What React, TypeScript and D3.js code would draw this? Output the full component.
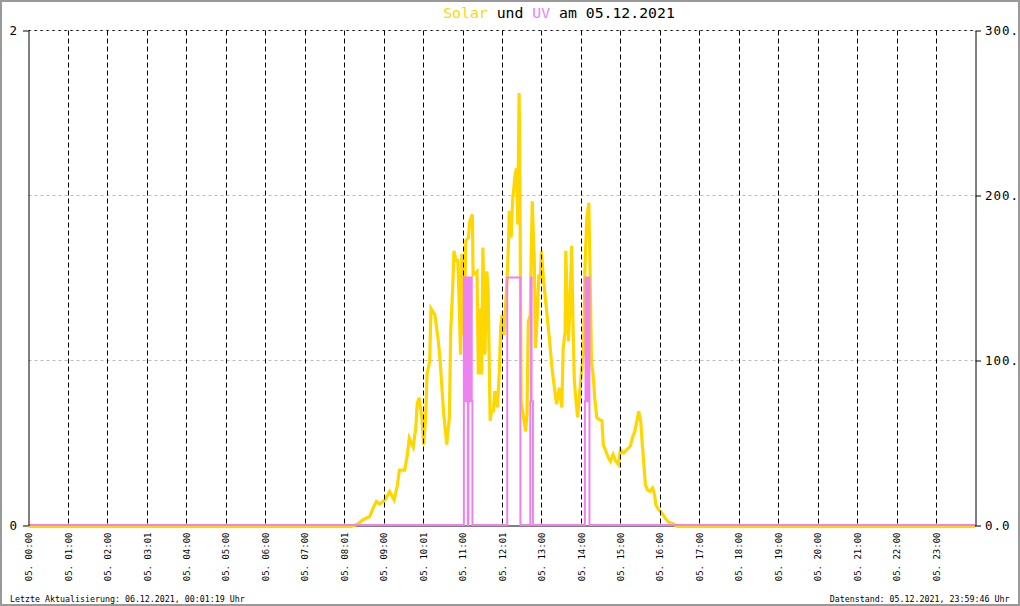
import React, { useEffect, useRef } from 'react';
import * as d3 from 'd3';

// Solar (W/m², right axis)
const solarTimes = [
  '00:00', '08:11', '08:19', '08:29', '08:39', '08:44', '08:49', '08:54', '09:02', '09:09',
  '09:16', '09:21', '09:24', '09:32', '09:36', '09:39', '09:45', '09:49', '09:51', '09:54',
  '09:58', '10:01', '10:04', '10:06', '10:10', '10:12', '10:18', '10:23', '10:26', '10:31',
  '10:36', '10:40', '10:42', '10:45', '10:47', '10:50', '10:53', '10:57', '10:59', '11:02',
  '11:05', '11:09', '11:11', '11:15', '11:16', '11:22', '11:24', '11:26', '11:29', '11:31',
  '11:34', '11:37', '11:39', '11:41', '11:42', '11:44', '11:47', '11:49', '11:53', '11:56',
  '11:58', '12:00', '12:03', '12:06', '12:08', '12:10', '12:11', '12:14', '12:16', '12:20',
  '12:22', '12:24', '12:26', '12:27', '12:29', '12:32', '12:36', '12:38', '12:40', '12:43',
  '12:44', '12:46', '12:49', '12:51', '12:54', '12:56', '12:58', '13:00', '13:03', '13:08',
  '13:12', '13:16', '13:19', '13:23', '13:27', '13:31', '13:33', '13:36', '13:37', '13:41',
  '13:43', '13:46', '13:48', '13:50', '13:53', '13:55', '13:58', '14:00', '14:04', '14:06',
  '14:09', '14:12', '14:14', '14:16', '14:19', '14:21', '14:24', '14:28', '14:32', '14:34',
  '14:38', '14:42', '14:45', '14:49', '14:53', '14:57', '15:00', '15:05', '15:10', '15:15',
  '15:19', '15:22', '15:25', '15:28', '15:31', '15:33', '15:35', '15:38', '15:41', '15:45',
  '15:49', '15:52', '15:54', '15:58', '16:03', '16:08', '16:13', '16:21', '16:26', '23:59',
];
const solarValues = [
  0, 0, 1, 4, 6, 11, 15, 13.5, 16, 21,
  16, 25, 34, 34, 43, 53.5, 48, 60, 74, 78,
  66, 49.5, 67, 92, 100, 132, 128, 113, 100, 70,
  49.5, 66, 118, 144, 167, 161, 161, 104, 165, 116,
  173, 175, 185, 189, 152.5, 154.5, 92, 132, 92, 169,
  104, 154.5, 142, 88, 64, 70, 70, 82, 72, 94,
  120, 128, 116, 138, 152.5, 173, 191, 175, 197, 213,
  217, 183, 262.6, 231, 76, 68, 57.5, 68, 124, 128,
  154.5, 197, 162.6, 108, 130, 152.5, 150, 167, 150, 130,
  114, 96, 86, 74, 84, 72, 108, 118, 167, 112,
  130, 170, 122, 88, 74, 66, 80, 90, 106, 154.5,
  187, 196, 152.5, 100, 90, 78, 66, 64.6, 64, 49.5,
  45.5, 41.4, 39.4, 43.4, 39.4, 37.4, 46.5, 44.4, 46.5, 48.5,
  54.5, 57.5, 63.6, 69.7, 63.6, 51.5, 41.4, 25.3, 22.2, 21.2,
  23.2, 19.2, 13.1, 10.1, 8.1, 5, 2.6, 1.4, 0, 0,
];

// UV index (left axis)
const uvTimes = [
  '00:00', '11:02', '11:03', '11:04', '11:05', '11:06', '11:07', '11:08', '11:09', '11:10',
  '11:11', '11:12', '11:13', '11:14', '11:15', '12:08', '12:28', '12:43', '12:44', '12:45',
  '12:47', '14:06', '14:07', '14:08', '14:09', '14:10', '14:11', '14:13', '23:59',
];
const uvValues = [
  0, 1, 0.5, 1, 0.5, 1, 0.5, 0, 1, 0.5,
  1, 0.5, 1, 0.5, 0, 1, 0, 0.5, 1, 0.5,
  0, 0.5, 1, 0.5, 1, 0.5, 1, 0, 0,
];

const hourLabels = [
  '05. 00:00', '05. 01:00', '05. 02:00', '05. 03:01', '05. 04:00', '05. 05:00',
  '05. 06:00', '05. 07:00', '05. 08:01', '05. 09:00', '05. 10:01', '05. 11:00',
  '05. 12:01', '05. 13:00', '05. 14:00', '05. 15:00', '05. 16:00', '05. 17:00',
  '05. 18:00', '05. 19:00', '05. 20:00', '05. 21:00', '05. 22:00', '05. 23:00',
];
const uvTicks = [0, 2];
const solarTicks = [0, 100, 200, 300];

const SOLAR = '#ffd700';
const UV = '#ee82ee';
const MONO = '"DejaVu Sans Mono", monospace';

const toMin = (s: string) => +s.slice(0, 2) * 60 + +s.slice(3, 5);

const App: React.FC = () => {
  const svgRef = useRef<SVGSVGElement>(null);

  useEffect(() => {
    const svg = d3.select(svgRef.current!);
    svg.selectAll('*').remove();

    const left = 28.5, right = 975.5, top = 30.5, bottom = 525.5;

    const x = d3.scaleLinear().domain([0, 1440]).range([left, right]);
    const yUv = d3.scaleLinear().domain([0, 2]).range([bottom, top]);
    const ySolar = d3.scaleLinear().domain([0, 300]).range([bottom, top]);

    svg.append('rect').attr('width', 1020).attr('height', 606).attr('fill', '#fff');

    // horizontal grid (right axis values)
    svg.append('g')
      .selectAll('line')
      .data(solarTicks.slice(1))
      .enter()
      .append('line')
      .attr('x1', left)
      .attr('x2', right)
      .attr('y1', (d) => ySolar(d))
      .attr('y2', (d) => ySolar(d))
      .attr('stroke', '#bdbdbd')
      .attr('stroke-dasharray', '3,3');
    svg.append('line')
      .attr('x1', left)
      .attr('x2', right)
      .attr('y1', ySolar(300))
      .attr('y2', ySolar(300))
      .attr('stroke', '#000')
      .attr('stroke-dasharray', '2,4');

    // x axis with rotated labels
    const xAxis = svg.append('g')
      .attr('transform', `translate(0, ${bottom})`)
      .call(
        d3.axisBottom(x)
          .tickValues(hourLabels.map((_, i) => i * 60))
          .tickSize(0)
          .tickSizeOuter(0)
          .tickFormat((_, i) => hourLabels[i])
      );
    xAxis.attr('color', '#000');
    xAxis.selectAll('text')
      .attr('transform', 'rotate(-90)')
      .attr('x', -7)
      .attr('y', 0)
      .attr('dy', '0.35em')
      .style('text-anchor', 'end')
      .style('font-family', MONO)
      .style('font-size', '9px');

    // solar line
    const solarData = solarTimes.map((t, i) => ({ m: toMin(t), v: solarValues[i] }));
    svg.append('path')
      .datum(solarData)
      .attr('fill', 'none')
      .attr('stroke', SOLAR)
      .attr('stroke-width', 3.2)
      .attr('stroke-linejoin', 'miter')
      .attr('d', d3.line<{ m: number; v: number }>()
        .x((d) => x(d.m))
        .y((d) => ySolar(d.v) + 0.8));

    // vertical hour grid
    svg.append('g')
      .selectAll('line')
      .data(hourLabels.slice(1).map((_, i) => (i + 1) * 60))
      .enter()
      .append('line')
      .attr('x1', (d) => Math.round(x(d)) + 0.5)
      .attr('x2', (d) => Math.round(x(d)) + 0.5)
      .attr('y1', top)
      .attr('y2', bottom)
      .attr('stroke', '#000')
      .attr('stroke-dasharray', '5,3');

    // UV line
    const uvData = uvTimes.map((t, i) => ({ m: toMin(t), v: uvValues[i] }));
    svg.append('path')
      .datum(uvData)
      .attr('fill', 'none')
      .attr('stroke', UV)
      .attr('stroke-width', 2)
      .attr('d', d3.line<{ m: number; v: number }>()
        .curve(d3.curveStepAfter)
        .x((d) => x(d.m))
        .y((d) => yUv(d.v) - 0.5));

    // left axis (UV)
    const yl = svg.append('g')
      .attr('transform', `translate(${left}, 0)`)
      .call(
        d3.axisLeft(yUv)
          .tickValues(uvTicks)
          .tickSize(5.5)
          .tickSizeOuter(0)
          .tickPadding(6)
          .tickFormat(d3.format('d'))
      );
    yl.attr('color', '#000');
    yl.selectAll('text').style('font-family', MONO).style('font-size', '12.5px');

    // right axis (Solar)
    const yr = svg.append('g')
      .attr('transform', `translate(${right}, 0)`)
      .call(
        d3.axisRight(ySolar)
          .tickValues(solarTicks)
          .tickSize(5.5)
          .tickSizeOuter(0)
          .tickPadding(4)
          .tickFormat(d3.format('.1f'))
      );
    yr.attr('color', '#000');
    yr.selectAll('text')
      .style('font-family', MONO)
      .style('font-size', '12.5px')
      .style('letter-spacing', '1px');

    // title
    const title = svg.append('text')
      .attr('x', 559)
      .attr('y', 18.3)
      .attr('text-anchor', 'middle')
      .style('font-family', MONO)
      .style('font-size', '14.8px')
      .style('white-space', 'pre');
    title.append('tspan').attr('fill', SOLAR).text('Solar');
    title.append('tspan').attr('fill', '#000').text(' und ');
    title.append('tspan').attr('fill', UV).text('UV');
    title.append('tspan').attr('fill', '#000').text(' am 05.12.2021');

    // footer
    svg.append('text')
      .attr('x', 10)
      .attr('y', 602)
      .style('font-family', MONO)
      .style('font-size', '8.3px')
      .text('Letzte Aktualisierung: 06.12.2021, 00:01:19 Uhr');
    svg.append('text')
      .attr('x', 1009.5)
      .attr('y', 602)
      .attr('text-anchor', 'end')
      .style('font-family', MONO)
      .style('font-size', '8.3px')
      .text('Datenstand: 05.12.2021, 23:59:46 Uhr');

    // frame
    svg.append('rect')
      .attr('x', 1)
      .attr('y', 1)
      .attr('width', 1018)
      .attr('height', 604)
      .attr('fill', 'none')
      .attr('stroke', '#999')
      .attr('stroke-width', 2);
  }, []);

  return (
    <svg
      ref={svgRef}
      width={1020}
      height={606}
      style={{ position: 'absolute', left: 0, top: 0, display: 'block' }}
    />
  );
};

export default App;
